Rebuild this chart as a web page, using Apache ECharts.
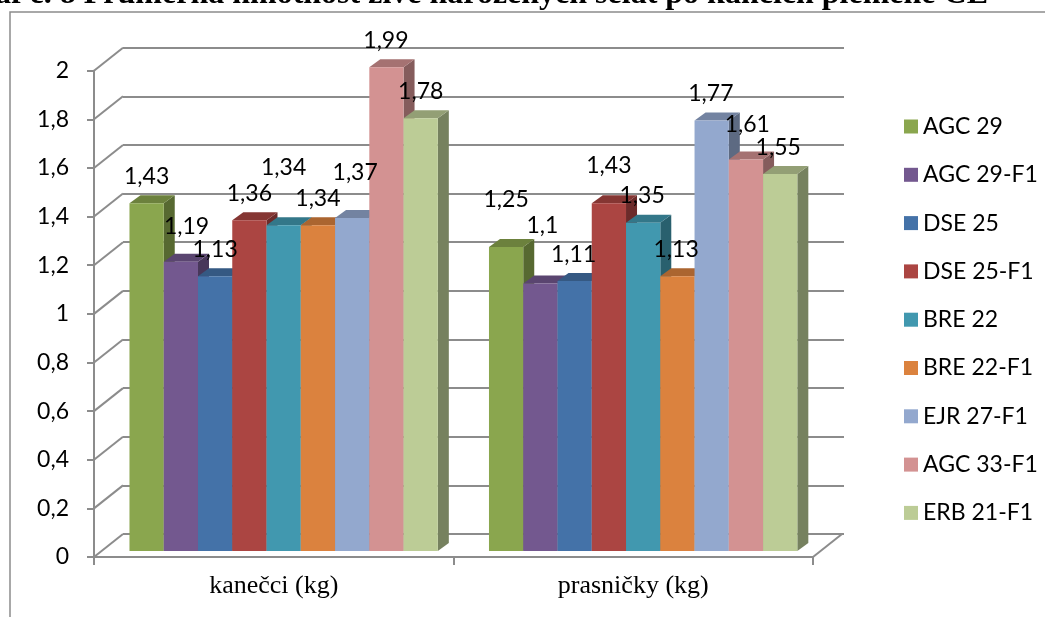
<!DOCTYPE html>
<html>
<head>
<meta charset="utf-8">
<script src="https://cdn.jsdelivr.net/npm/echarts@6/dist/echarts.min.js"></script>
<style>
  html, body { margin: 0; padding: 0; background: #fff; }
  #chart { width: 1045px; height: 617px; }
</style>
</head>
<body>
<div id="chart"></div>
<script>
// Mean weight of live-born piglets by CE boar, split by sex
const categories = ['kanečci (kg)', 'prasničky (kg)'];
const breeds = ['AGC 29', 'AGC 29-F1', 'DSE 25', 'DSE 25-F1', 'BRE 22', 'BRE 22-F1', 'EJR 27-F1', 'AGC 33-F1', 'ERB 21-F1'];
const kanecci = [1.43, 1.19, 1.13, 1.36, 1.34, 1.34, 1.37, 1.99, 1.78];
const prasnicky = [1.25, 1.1, 1.11, 1.43, 1.35, 1.13, 1.77, 1.61, 1.55];
const yTicks = [0, 0.2, 0.4, 0.6, 0.8, 1, 1.2, 1.4, 1.6, 1.8, 2];
const titleText = 'Graf č. 8 Průměrná hmotnost živě narozených selat po kancích plemene CE';

// styling
const colors = ['#8AA64E', '#73588F', '#4472A8', '#AB4542', '#4198AF', '#DB823E', '#93A8CE', '#D39292', '#BCCC96'];
const GRID_COLOR = '#8C8C8C';
const WALL_DX = 29, WALL_DY = -23;   // depth offset of the back wall
const BAR_DX = 11, BAR_DY = -8;      // depth of each bar
const BAR_FRACTION = 0.0953;         // bar width as share of a category band
const LABEL_LIFT = 27;
// per-label nudges [dx, dy] so neighbouring labels don't collide
const labelNudge = [
  [[0, 0], [0, -20]],
  [[5.7, -8], [2, -31]],
  [[0, 0], [-1, 0]],
  [[0, 0], [0, -10.5]],
  [[0, -31], [-1, 0]],
  [[0, 0], [-1.3, 0]],
  [[3, -18], [-0.8, 0]],
  [[-0.5, 0], [1.4, -8]],
  [[0, 0], [-2, 0]]
];

function shade(hex, f) {
  const n = parseInt(hex.slice(1), 16);
  const r = Math.round(((n >> 16) & 255) * f);
  const g = Math.round(((n >> 8) & 255) * f);
  const b = Math.round((n & 255) * f);
  return 'rgb(' + r + ',' + g + ',' + b + ')';
}

function fmt(v) { return String(Math.round(v * 100) / 100).replace('.', ','); }

function barRenderer(k) {
  return function (params, api) {
    const cat = api.value(0);
    const val = api.value(1);
    const top = api.coord([cat, val]);
    const base = api.coord([cat, 0]);
    const band = api.size([1, 0])[0];
    const w = band * BAR_FRACTION;
    const groupW = w * breeds.length;
    const x0 = top[0] - groupW / 2 + k * w;
    const x1 = x0 + w;
    const yt = top[1], yb = base[1];
    const nudge = labelNudge[k][cat];
    return {
      type: 'group',
      children: [
        {
          type: 'polygon', z2: k * 3,
          shape: { points: [[x1, yt], [x1 + BAR_DX, yt + BAR_DY], [x1 + BAR_DX, yb + BAR_DY], [x1, yb]] },
          style: { fill: shade(colors[k], 0.63) }
        },
        {
          type: 'polygon', z2: k * 3 + 1,
          shape: { points: [[x0, yt], [x1, yt], [x1 + BAR_DX, yt + BAR_DY], [x0 + BAR_DX, yt + BAR_DY]] },
          style: { fill: shade(colors[k], 0.78) }
        },
        {
          type: 'rect', z2: k * 3 + 2,
          shape: { x: x0, y: yt, width: w, height: yb - yt },
          style: { fill: colors[k] }
        },
        {
          type: 'text', z2: 1000,
          x: (x0 + x1) / 2 + nudge[0],
          y: yt - LABEL_LIFT + nudge[1],
          style: {
            text: fmt(val), fill: '#000', font: '23px Lato',
            align: 'center', verticalAlign: 'middle'
          }
        }
      ]
    };
  };
}

const barSeries = breeds.map(function (name, k) {
  return {
    name: name,
    type: 'custom',
    xAxisIndex: 2, yAxisIndex: 2,
    itemStyle: { color: colors[k] },
    encode: { x: 0, y: 1 },
    data: [[0, kanecci[k]], [1, prasnicky[k]]],
    renderItem: barRenderer(k),
    animation: false
  };
});

// diagonal lines joining the front axis to the back wall
const depthSeries = {
  type: 'custom',
  xAxisIndex: 0, yAxisIndex: 0,
  silent: true,
  animation: false,
  encode: { x: 0, y: 1 },
  data: yTicks.map(function (v) { return [0, v]; }),
  renderItem: function (params, api) {
    const cs = params.coordSys;
    const v = api.value(1);
    const p = api.coord([0, v]);
    const lines = [{
      type: 'line',
      shape: { x1: cs.x, y1: p[1], x2: cs.x + WALL_DX, y2: p[1] + WALL_DY },
      style: { stroke: GRID_COLOR, lineWidth: 2 }
    }];
    if (v === 0) {
      lines.push({
        type: 'line',
        shape: { x1: cs.x + cs.width, y1: p[1], x2: cs.x + cs.width + WALL_DX, y2: p[1] + WALL_DY },
        style: { stroke: GRID_COLOR, lineWidth: 2 }
      });
    }
    return { type: 'group', children: lines };
  }
};

const chart = echarts.init(document.getElementById('chart'), null, { renderer: 'canvas' });

const FRONT = { left: 94, top: 70.7, width: 719, height: 486.3 };

chart.setOption({
  backgroundColor: '#fff',
  animation: false,
  graphic: [
    {
      type: 'rect', silent: true,
      shape: { x: 10, y: 12, width: 1200, height: 800 },
      style: { fill: 'none', stroke: '#8C8C8C', lineWidth: 1.5 }
    },
    {
      type: 'text', silent: true,
      x: 988, y: -5,
      style: {
        text: titleText, fill: '#000',
        font: 'bold 32px "Liberation Serif"',
        align: 'right', verticalAlign: 'middle'
      }
    }
  ],
  legend: {
    data: breeds,
    orient: 'vertical',
    left: 899, top: 110,
    icon: 'rect',
    itemWidth: 14, itemHeight: 14,
    itemGap: 25.3,
    textStyle: { fontFamily: 'Lato', fontSize: 23, color: '#000' }
  },
  grid: [
    { left: FRONT.left, top: FRONT.top, width: FRONT.width, height: FRONT.height },
    { left: FRONT.left + WALL_DX, top: FRONT.top + WALL_DY, width: FRONT.width + 2, height: FRONT.height },
    { left: FRONT.left + 9.9, top: 64.7, width: FRONT.width, height: FRONT.height }
  ],
  xAxis: [
    {
      gridIndex: 0, type: 'category', data: categories,
      axisLine: { show: true, lineStyle: { color: GRID_COLOR, width: 2 } },
      axisTick: { show: true, length: 8, lineStyle: { color: GRID_COLOR, width: 2 } },
      axisLabel: { margin: 16, color: '#000', fontFamily: 'Liberation Serif', fontSize: 26 },
      splitLine: { show: false }
    },
    { gridIndex: 1, type: 'category', data: categories, show: false },
    { gridIndex: 2, type: 'category', data: categories, show: false }
  ],
  yAxis: [
    {
      gridIndex: 0, type: 'value', min: 0, max: 2, interval: 0.2,
      axisLine: { show: true, lineStyle: { color: GRID_COLOR, width: 2 } },
      axisTick: { show: true, length: 7, lineStyle: { color: GRID_COLOR, width: 2 } },
      axisLabel: { margin: 25, color: '#000', fontFamily: 'Lato', fontSize: 23, formatter: fmt },
      splitLine: { show: false }
    },
    {
      gridIndex: 1, type: 'value', min: 0, max: 2, interval: 0.2,
      axisLine: { show: false }, axisTick: { show: false }, axisLabel: { show: false },
      splitLine: { show: true, lineStyle: { color: GRID_COLOR, width: 2 } }
    },
    {
      gridIndex: 2, type: 'value', min: 0, max: 2, interval: 0.2, show: false,
      splitLine: { show: false }
    }
  ],
  series: [depthSeries].concat(barSeries)
});
</script>
</body>
</html>
